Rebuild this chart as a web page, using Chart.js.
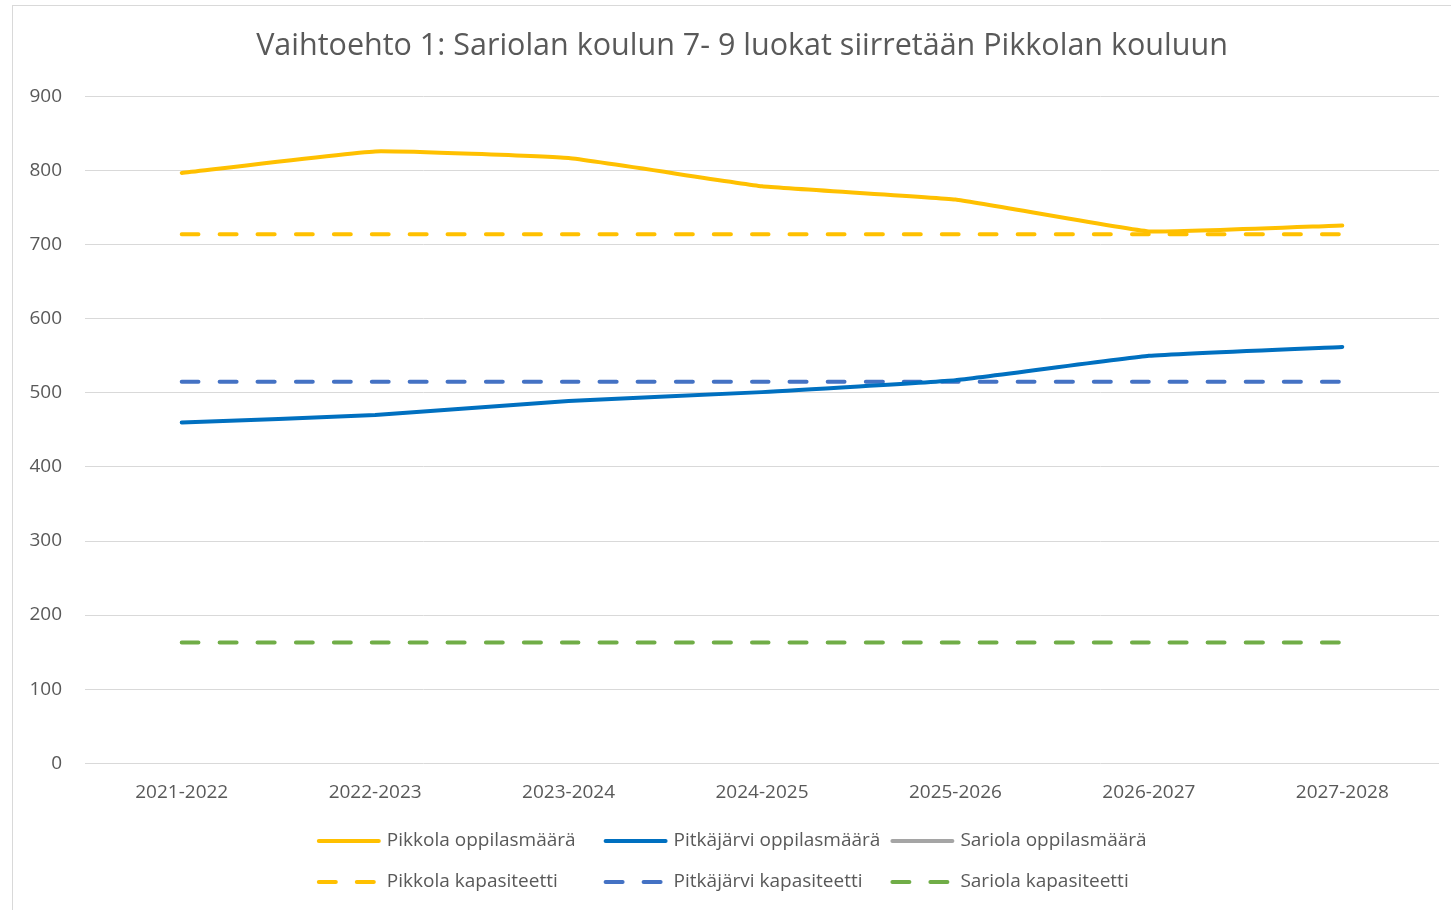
<!DOCTYPE html>
<html>
<head>
<meta charset="utf-8">
<script src="https://cdn.jsdelivr.net/npm/chart.js@4"></script>
<style>
  html, body { margin: 0; padding: 0; background: #fff; overflow: hidden; }
  #wrap {
    position: absolute; left: 12px; top: 5px;
    width: 1462px; height: 920px;
    border: 1px solid #d9d9d9; box-sizing: border-box;
  }
</style>
</head>
<body>
<div id="wrap"><canvas id="chart"></canvas></div>
<script>
const years = ['2021-2022', '2022-2023', '2023-2024', '2024-2025', '2025-2026', '2026-2027', '2027-2028'];

// oppilasmäärät
const pikkolaOppilaat = [797, 826, 817, 779, 761, 718, 726];
const pitkajarviOppilaat = [460, 470, 489, 501, 517, 550, 562];
const sariolaOppilaat = [null, null, null, null, null, null, null];

// kapasiteetit
const pikkolaKap = [714, 714, 714, 714, 714, 714, 714];
const pitkajarviKap = [515, 515, 515, 515, 515, 515, 515];
const sariolaKap = [163, 163, 163, 163, 163, 163, 163];

const yTicks = [0, 100, 200, 300, 400, 500, 600, 700, 800, 900];

const grey = '#595959';
const font = 'Open Sans, sans-serif';

function line(label, data, color, dashed) {
    return {
        label: label,
        data: data,
        borderColor: color,
        backgroundColor: color,
        borderWidth: 4,
        borderDash: dashed ? [17, 21] : [],
        borderCapStyle: 'round',
        pointRadius: 0,
        tension: 0.1,
        fill: false,
    };
}

// Excel-tyylinen selite: 3 saraketta, 2 riviä
const excelLegend = {
    id: 'excelLegend',
    afterDraw(chart) {
        const c = chart.ctx;
        const sets = chart.data.datasets;
        const sample = 64, gap = 6, cols = 3;
        c.save();
        c.font = '19px ' + font;
        let colW = 0;
        sets.forEach(ds => { colW = Math.max(colW, sample + gap + c.measureText(ds.label).width); });
        colW += 10;
        const x0 = chart.width / 2 - (colW * cols) / 2 + 4;
        const rows = [835, 876]; // rivien keskikohdat canvasissa
        sets.forEach((ds, i) => {
            const x = x0 + (i % cols) * colW;
            const y = rows[Math.floor(i / cols)];
            c.strokeStyle = ds.borderColor;
            c.lineWidth = 4;
            c.lineCap = 'round';
            c.setLineDash(ds.borderDash.length ? [17, 21] : []);
            c.beginPath();
            c.moveTo(x + 2, y);
            c.lineTo(x + sample - 2, y);
            c.stroke();
            c.setLineDash([]);
            c.fillStyle = grey;
            c.textBaseline = 'middle';
            c.fillText(ds.label, x + sample + gap, y);
        });
        c.restore();
    },
};

const ctx = document.getElementById('chart').getContext('2d');
new Chart(ctx, {
    type: 'line',
    data: {
        labels: years,
        datasets: [
            line('Pikkola oppilasmäärä', pikkolaOppilaat, '#ffc000', false),
            line('Pitkäjärvi oppilasmäärä', pitkajarviOppilaat, '#0070c0', false),
            line('Sariola oppilasmäärä', sariolaOppilaat, '#a5a5a5', false),
            line('Pikkola kapasiteetti', pikkolaKap, '#ffc000', true),
            line('Pitkäjärvi kapasiteetti', pitkajarviKap, '#4472c4', true),
            line('Sariola kapasiteetti', sariolaKap, '#70ad47', true),
        ],
    },
    plugins: [excelLegend],
    options: {
        responsive: true,
        maintainAspectRatio: false,
        animation: false,
        layout: { padding: { left: 14, right: 16, top: 22, bottom: 110 } },
        plugins: {
            title: {
                display: true,
                text: 'Vaihtoehto 1: Sariolan koulun 7- 9 luokat siirretään Pikkolan kouluun',
                color: grey,
                font: { size: 30.5, family: font, weight: 'normal' },
                padding: { top: 0, bottom: 32 },
            },
            legend: { display: false },
            tooltip: { enabled: false },
        },
        scales: {
            x: {
                offset: true,
                grid: { display: false },
                border: { display: false },
                ticks: { color: grey, font: { size: 19, family: font }, padding: 10 },
            },
            y: {
                min: 0,
                max: 900,
                afterBuildTicks: (axis) => { axis.ticks = yTicks.map(v => ({ value: v })); },
                afterFit: (axis) => { axis.width = 58; },
                grid: { color: '#d9d9d9', lineWidth: 1, drawTicks: false },
                border: { display: false },
                ticks: { color: grey, font: { size: 19, family: font }, padding: 23 },
            },
            // tyhjä oikea akseli, jotta piirtoalue päättyy samaan kohtaan kuin mallissa
            yRight: {
                position: 'right',
                grid: { display: false },
                border: { display: false },
                ticks: { display: false },
                afterFit: (axis) => { axis.width = 18; },
            },
        },
    },
});
</script>
</body>
</html>
